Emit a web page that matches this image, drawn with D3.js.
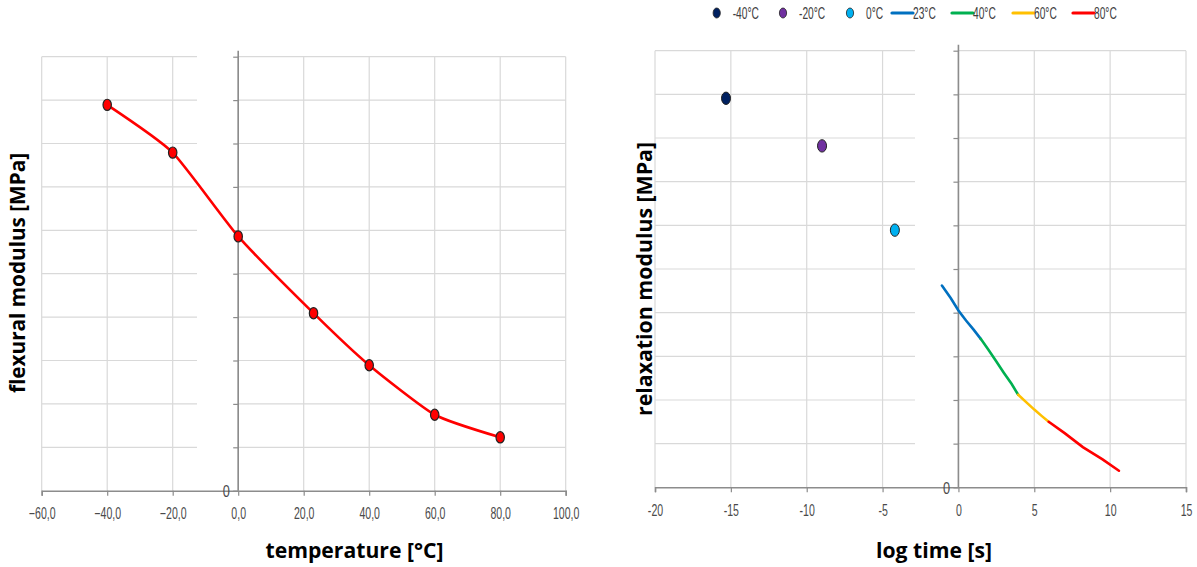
<!DOCTYPE html>
<html><head><meta charset="utf-8">
<script src="https://cdn.jsdelivr.net/npm/d3@7"></script>
<style>
body{margin:0;background:#fff;}
svg{display:block;}
.tick text{font-family:"Liberation Sans",Arial,sans-serif;font-size:16px;fill:#4a4a4a;}
.title{font-family:"Open Sans",sans-serif;font-weight:700;font-size:21px;fill:#000;}
.leg{font-family:"Liberation Sans",Arial,sans-serif;font-size:17px;fill:#404040;}
</style></head><body>
<svg id="c" width="1197" height="567"></svg>
<script>
// ---------- DATA ----------
// Left chart: flexural modulus vs temperature (y in grid units, real scale hidden)
const flexTemps = [-40, -20, 0, 23, 40, 60, 80];
const flexModulus = [8.89, 7.79, 5.86, 4.09, 2.89, 1.75, 1.23];
const leftXTicks = [-60, -40, -20, 0, 20, 40, 60, 80, 100];
const yGridTicks = [0,1,2,3,4,5,6,7,8,9,10];

// Right chart: relaxation modulus vs log time
const pointSeriesNames = ["-40°C", "-20°C", "0°C"];
const pointLogTime = [-15.32, -8.99, -4.19];
const pointModulus = [8.91, 7.82, 5.89];
const pointColors = ["#002060", "#7030a0", "#00b0f0"];

const lineSeriesNames = ["23°C", "40°C", "60°C", "80°C"];
const line23 = [[-1.09,4.62],[-0.5,4.33],[0,4.05],[0.5,3.82],[1.0,3.61],[1.47,3.40]];
const line40 = [[1.47,3.40],[2.0,3.14],[2.5,2.88],[3.0,2.62],[3.5,2.37],[3.94,2.12]];
const line60 = [[3.94,2.12],[4.5,1.94],[5.0,1.78],[5.5,1.63],[5.95,1.50]];
const line80 = [[5.95,1.50],[7.0,1.24],[8.2,0.92],[9.5,0.64],[10.58,0.38]];
const lineData = [line23, line40, line60, line80];
const lineColors = ["#0070c0", "#00b050", "#ffc000", "#ff0000"];
const rightXTicks = [-20, -15, -10, -5, 0, 5, 10, 15];

// ---------- DRAW ----------
const svg = d3.select("#c");
const gridColor = "#d9d9d9", axisColor = "#8c8c8c";
const SQ = 0.66; // horizontal squeeze of the condensed label font

function panel(opt){
  const g = svg.append("g");
  const x = d3.scaleLinear().domain(opt.xDomain).range(opt.xRange);
  const y = d3.scaleLinear().domain([0,10]).range(opt.yRange);
  g.selectAll(".vg").data(opt.xTicks).join("line")
    .attr("x1", d=>x(d)).attr("x2", d=>x(d))
    .attr("y1", y(0)).attr("y2", y(10))
    .attr("stroke", gridColor).attr("stroke-width", 1.2);
  const hg = yGridTicks.filter(d=>d>0);
  g.selectAll(".hg1").data(hg).join("line")
    .attr("x1", x(opt.xDomain[0])).attr("x2", opt.gapStart)
    .attr("y1", d=>y(d)).attr("y2", d=>y(d))
    .attr("stroke", gridColor).attr("stroke-width", 1.2);
  g.selectAll(".hg2").data(hg).join("line")
    .attr("x1", x(0)).attr("x2", x(opt.xDomain[1]))
    .attr("y1", d=>y(d)).attr("y2", d=>y(d))
    .attr("stroke", gridColor).attr("stroke-width", 1.2);
  const xa = g.append("g").attr("transform", `translate(0,${y(0)})`)
    .call(d3.axisBottom(x).tickValues(opt.xTicks).tickSize(5).tickPadding(12).tickFormat(opt.xFmt));
  xa.select(".domain").attr("stroke", axisColor).attr("stroke-width", 1.6);
  xa.selectAll(".tick line").attr("stroke", axisColor).attr("stroke-width", 1.2);
  xa.selectAll(".tick text").attr("transform", `scale(${SQ},1)`);
  const ya = g.append("g").attr("transform", `translate(${x(0)},0)`)
    .call(d3.axisLeft(y).tickValues(yGridTicks).tickSize(5).tickPadding(6).tickFormat(d=>d===0?"0":""));
  ya.select(".domain").attr("stroke", axisColor).attr("stroke-width", 1.6)
    .attr("d", `M0,${y(10)-6}V${y(0)}`);
  ya.selectAll(".tick line").attr("stroke", axisColor).attr("stroke-width", 1.2);
  ya.selectAll(".tick text").attr("dy", "0.35em").attr("transform", `scale(0.75,1)`).style("font-size","17px");
  g.append("text").attr("class","title").attr("text-anchor","middle")
    .attr("x", opt.xTitlePos[0]).attr("y", opt.xTitlePos[1])
    .attr("textLength", opt.xTitleLen).attr("lengthAdjust","spacingAndGlyphs").text(opt.xTitle);
  g.append("text").attr("class","title").attr("text-anchor","middle")
    .attr("transform", `translate(${opt.yTitlePos[0]},${opt.yTitlePos[1]}) rotate(-90)`)
    .attr("textLength", opt.yTitleLen).attr("lengthAdjust","spacingAndGlyphs").text(opt.yTitle);
  return {g, x, y};
}

// Left panel
const L = panel({
  xDomain:[-60,100], xRange:[41.7,565.7], yRange:[490.7,56.7],
  xTicks: leftXTicks, xFmt: d=>d3.format(".1f")(d).replace(".", ","),
  gapStart: 197,
  xTitle:"temperature [°C]", xTitlePos:[354.5,558], xTitleLen:178,
  yTitle:"flexural modulus [MPa]", yTitlePos:[25,273], yTitleLen:240
});
const flexPts = flexTemps.map((t,i)=>[t, flexModulus[i]]);
L.g.append("path").datum(flexPts)
  .attr("d", d3.line().x(d=>L.x(d[0])).y(d=>L.y(d[1])).curve(d3.curveCardinal.tension(0.45)))
  .attr("fill","none").attr("stroke","#ff0000").attr("stroke-width",2.6);
L.g.selectAll(".fp").data(flexPts).join("ellipse")
  .attr("cx", d=>L.x(d[0])).attr("cy", d=>L.y(d[1]))
  .attr("rx",4.2).attr("ry",5.6).attr("fill","#ff0000").attr("stroke","#222").attr("stroke-width",1.2);

// Right panel
const R = panel({
  xDomain:[-20,15], xRange:[655,1186], yRange:[487.3,50.7],
  xTicks: rightXTicks, xFmt: d=>String(d),
  gapStart: 915,
  xTitle:"log time [s]", xTitlePos:[934,558], xTitleLen:116,
  yTitle:"relaxation modulus [MPa]", yTitlePos:[652,279], yTitleLen:274
});
const lineGen = d3.line().x(d=>R.x(d[0])).y(d=>R.y(d[1]));
R.g.selectAll(".rl").data(lineData).join("path")
  .attr("d", lineGen).attr("fill","none")
  .attr("stroke", (d,i)=>lineColors[i]).attr("stroke-width",2.6).attr("stroke-linecap","round");
R.g.selectAll(".rp").data(pointLogTime).join("ellipse")
  .attr("cx", d=>R.x(d)).attr("cy", (d,i)=>R.y(pointModulus[i]))
  .attr("rx",4.5).attr("ry",6.2).attr("fill",(d,i)=>pointColors[i]).attr("stroke","#222").attr("stroke-width",1);

// Legend
const leg = svg.append("g");
const legItems = [
  {name:pointSeriesNames[0], color:pointColors[0], type:"pt", x:716.7},
  {name:pointSeriesNames[1], color:pointColors[1], type:"pt", x:783},
  {name:pointSeriesNames[2], color:pointColors[2], type:"pt", x:850},
  {name:lineSeriesNames[0], color:lineColors[0], type:"ln", x:892},
  {name:lineSeriesNames[1], color:lineColors[1], type:"ln", x:952},
  {name:lineSeriesNames[2], color:lineColors[2], type:"ln", x:1013},
  {name:lineSeriesNames[3], color:lineColors[3], type:"ln", x:1073}
];
legItems.forEach(it=>{
  let tx;
  if(it.type==="pt"){
    leg.append("ellipse").attr("cx",it.x).attr("cy",13).attr("rx",3.6).attr("ry",5)
      .attr("fill",it.color).attr("stroke","#222").attr("stroke-width",0.8);
    tx = it.x+16;
  } else {
    leg.append("line").attr("x1",it.x).attr("x2",it.x+21).attr("y1",13).attr("y2",13)
      .attr("stroke",it.color).attr("stroke-width",3.2).attr("stroke-linecap","round");
    tx = it.x+21;
  }
  leg.append("text").attr("class","leg").attr("x",0).attr("y",19)
    .attr("transform",`translate(${tx},0) scale(0.6,1)`).text(it.name);
});
</script></body></html>
